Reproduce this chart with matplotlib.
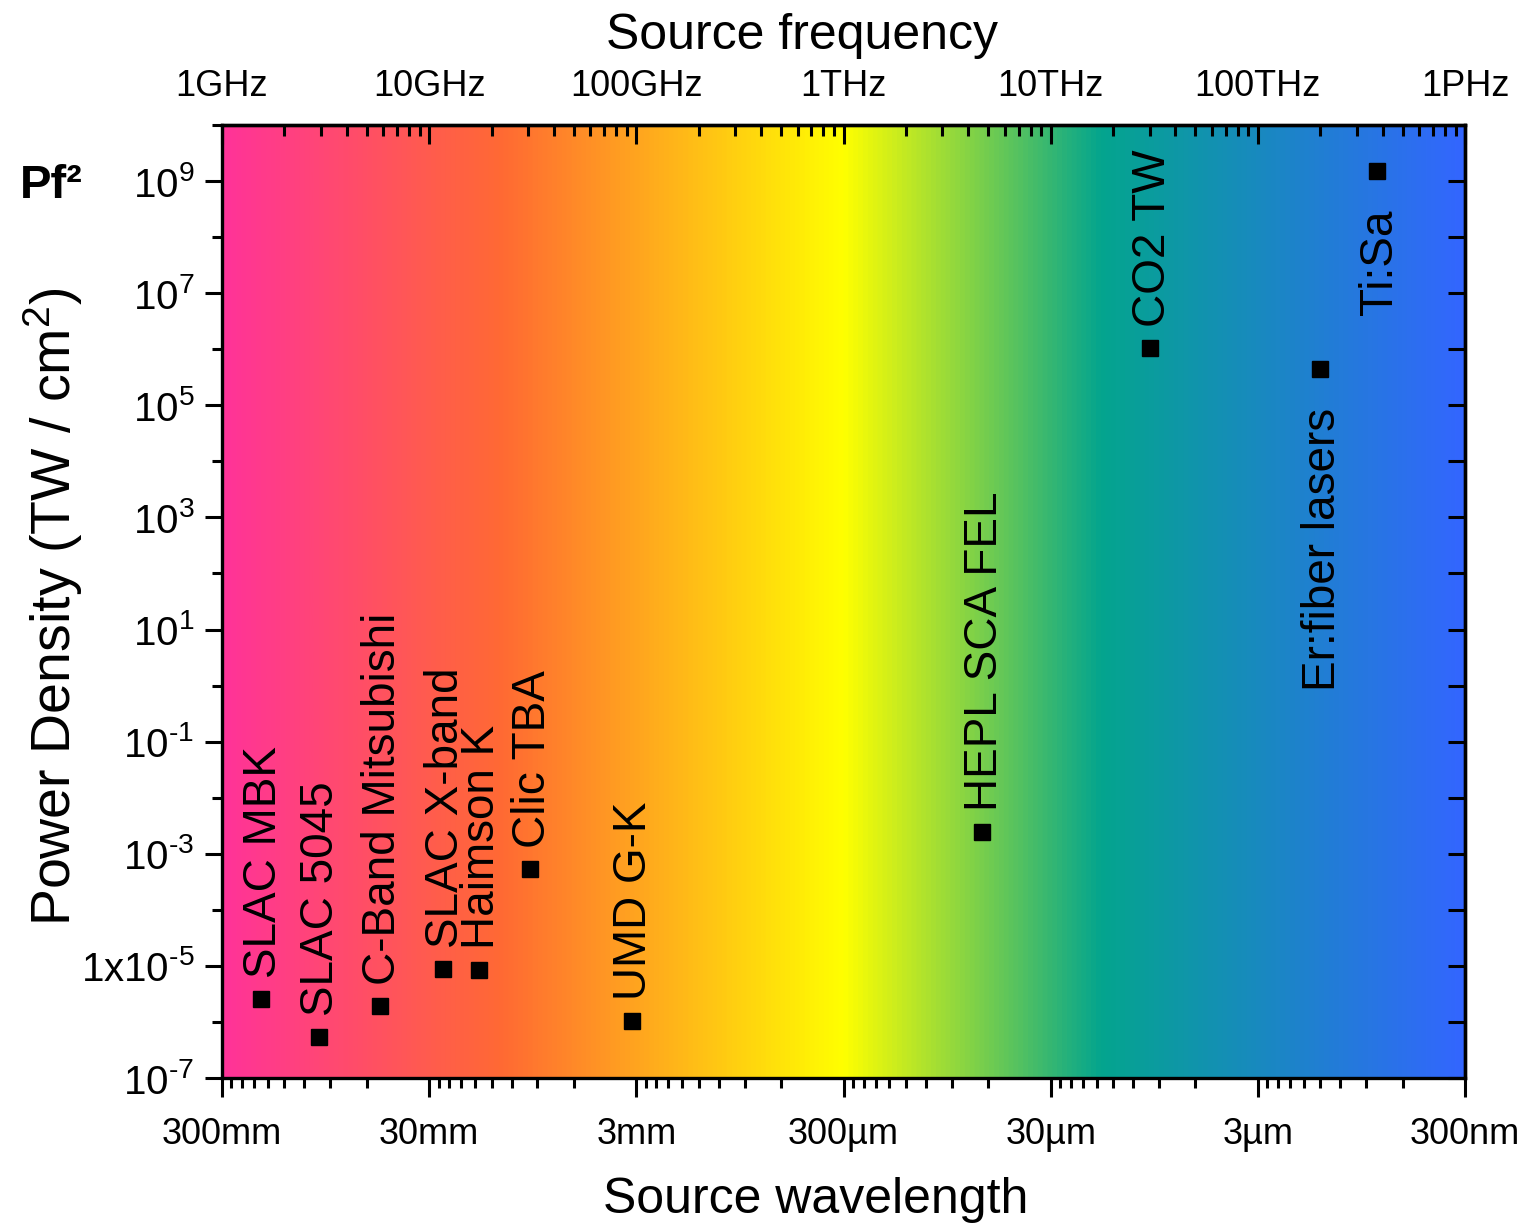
import numpy as np
import matplotlib
matplotlib.use("Agg")
import matplotlib.pyplot as plt
from matplotlib.colors import LinearSegmentedColormap
from matplotlib.ticker import FixedLocator, FixedFormatter, NullFormatter

plt.rcParams['font.family'] = ['Liberation Sans', 'DejaVu Sans']
plt.rcParams['mathtext.fontset'] = 'custom'
plt.rcParams['mathtext.rm'] = 'Liberation Sans'
plt.rcParams['mathtext.it'] = 'Liberation Sans:italic'
plt.rcParams['mathtext.bf'] = 'Liberation Sans:bold'

# sources: frequency (Hz) and Pf^2 power density (TW/cm^2)
sources = ["SLAC MBK", "SLAC 5045", "C-Band Mitsubishi", "SLAC X-band",
           "Haimson K", "Clic TBA", "UMD G-K", "HEPL SCA FEL", "CO2 TW",
           "Er:fiber lasers", "Ti:Sa"]
freq = [1.54e9, 2.93e9, 5.8e9, 1.17e10, 1.74e10, 3.07e10, 9.5e10,
        4.66e12, 3.01e13, 2.0e14, 3.76e14]
power = [2.56e-6, 5.4e-7, 1.92e-6, 8.8e-6, 8.45e-6, 5.35e-4, 1.04e-6,
         2.44e-3, 1.05e6, 4.4e5, 1.51e9]
label_below = [False, False, False, False, False, False, False,
               False, False, True, True]

freq_ticks = [1e9, 1e10, 1e11, 1e12, 1e13, 1e14, 1e15]
freq_labels = ['1GHz', '10GHz', '100GHz', '1THz', '10THz', '100THz', '1PHz']
wave_labels = ['300mm', '30mm', '3mm', '300µm', '30µm', '3µm', '300nm']

y_major = [1e-7, 1e-5, 1e-3, 1e-1, 1e1, 1e3, 1e5, 1e7, 1e9]
y_labels = [r'$\mathregular{10^{\text{-}7}}$', r'$\mathregular{1x10^{\text{-}5}}$',
            r'$\mathregular{10^{\text{-}3}}$', r'$\mathregular{10^{\text{-}1}}$',
            r'$\mathregular{10^{1}}$', r'$\mathregular{10^{3}}$',
            r'$\mathregular{10^{5}}$', r'$\mathregular{10^{7}}$',
            r'$\mathregular{10^{9}}$']
y_minor = [1e-6, 1e-4, 1e-2, 1e0, 1e2, 1e4, 1e6, 1e8, 1e10]

# spectrum-like background gradient along log frequency
grad_stops = [(0.0, '#ff3399'), (0.225, '#ff6a33'), (0.5, '#ffff00'),
              (0.708, '#04a58e'), (1.0, '#3366ff')]
spectrum = LinearSegmentedColormap.from_list('spectrum', grad_stops)

W, H = 1518, 1226
fig = plt.figure(figsize=(W / 100, H / 100), dpi=100)
ax = fig.add_axes([222 / W, 1 - 1078 / H, 1243 / W, 953 / H])

ax.imshow(np.linspace(0, 1, 1024)[None, :], extent=[0, 1, 0, 1],
          transform=ax.transAxes, aspect='auto', cmap=spectrum, zorder=0)

ax.set_xscale('log')
ax.set_yscale('log')

ax.plot(freq, power, 's', color='black', markersize=12, zorder=3)

for name, f, p, below in zip(sources, freq, power, label_below):
    if below:
        ax.annotate(name, (f, p), xytext=(2, -28), textcoords='offset points',
                    rotation=90, ha='center', va='top', fontsize=33, zorder=4)
    else:
        ax.annotate(name, (f, p), xytext=(2, 15), textcoords='offset points',
                    rotation=90, ha='center', va='bottom', fontsize=33, zorder=4)

ax.set_xlim(1e9, 1e15)
ax.set_ylim(1e-7, 1e10)

for s in ax.spines.values():
    s.set_linewidth(2.4)
    s.set_zorder(5)

# bottom axis: wavelength labels at the frequency decades
ax.xaxis.set_major_locator(FixedLocator(freq_ticks))
ax.xaxis.set_major_formatter(FixedFormatter(wave_labels))
wave_minor = [10.0 ** m / k for m in range(10, 16) for k in range(2, 10)]
ax.xaxis.set_minor_locator(FixedLocator(wave_minor))
ax.xaxis.set_minor_formatter(NullFormatter())
ax.tick_params(axis='x', which='major', direction='out', length=14, width=2.2,
               labelsize=26, pad=14, top=False)
ax.tick_params(axis='x', which='minor', direction='out', length=7, width=2.2, top=False)

# left axis
ax.yaxis.set_major_locator(FixedLocator(y_major))
ax.yaxis.set_major_formatter(FixedFormatter(y_labels))
ax.yaxis.set_minor_locator(FixedLocator(y_minor))
ax.yaxis.set_minor_formatter(NullFormatter())
ax.tick_params(axis='y', which='major', direction='out', length=12, width=2.2,
               labelsize=29, pad=8, right=False)
ax.tick_params(axis='y', which='minor', direction='out', length=7, width=2.2, right=False)

# top axis: frequency
top = ax.secondary_xaxis('top')
top.xaxis.set_major_locator(FixedLocator(freq_ticks))
top.xaxis.set_major_formatter(FixedFormatter(freq_labels))
freq_minor = [k * 10.0 ** m for m in range(9, 15) for k in range(2, 10)]
top.xaxis.set_minor_locator(FixedLocator(freq_minor))
top.xaxis.set_minor_formatter(NullFormatter())
top.tick_params(which='major', direction='in', length=14, width=2.2,
                labelsize=26, pad=15)
top.tick_params(which='minor', direction='in', length=8, width=2.2)
top.spines['top'].set_linewidth(2.4)

# right axis: every decade, ticks inward
right = ax.secondary_yaxis('right')
right.yaxis.set_major_locator(FixedLocator([10.0 ** e for e in range(-7, 11)]))
right.yaxis.set_major_formatter(NullFormatter())
right.yaxis.set_minor_locator(FixedLocator([]))
right.tick_params(which='major', direction='in', length=12, width=2.2)
right.spines['right'].set_linewidth(2.4)

fig.text(802 / W, 1 - 49 / H, 'Source frequency', ha='center', va='baseline',
         fontsize=36)
fig.text(816 / W, 1 - 1213 / H, 'Source wavelength', ha='center', va='baseline',
         fontsize=36)
fig.text(53 / W, 1 - 607 / H, r'Power Density (TW / cm$^2$)', rotation=90,
         ha='center', va='center', fontsize=40)
fig.text(20 / W, 1 - 198 / H, 'Pf²', ha='left', va='baseline', fontsize=34,
         fontweight='bold')

fig.savefig('out.png', dpi=100)
